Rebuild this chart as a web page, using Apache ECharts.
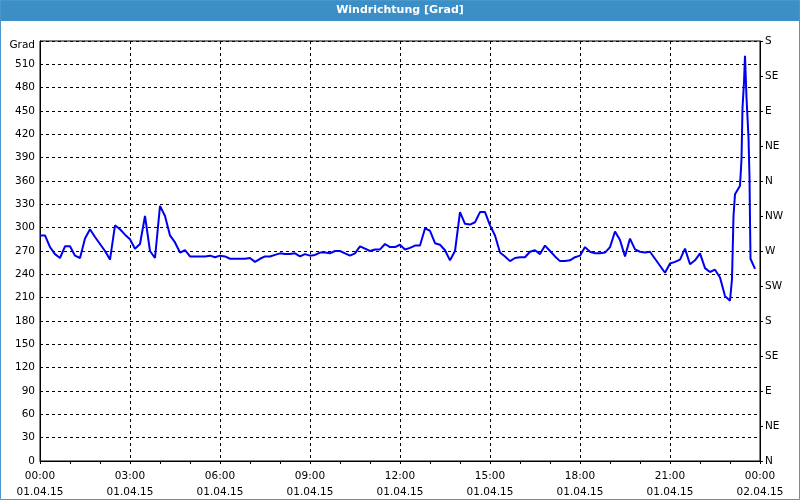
<!DOCTYPE html>
<html>
<head>
<meta charset="utf-8">
<script src="https://cdn.jsdelivr.net/npm/echarts@6/dist/echarts.min.js"></script>
<style>html,body{margin:0;padding:0;background:#fff}#c{width:800px;height:500px}</style>
</head>
<body>
<div id="c"></div>
<script>
// Sampling grid of the main series: one value every 10 minutes, 00:00 to 23:00
const stepMinutes = 10;
const values = [
  290,290,275,266,261,276,276,264,261,286,298,288,279,270,259,303,298,291,
  285,273,279,315,270,261,328,315,290,281,268,271,263,263,263,263,264,262,
  264,263,260,260,260,260,261,256,260,263,263,265,267,266,266,267,263,266,
  264,265,268,268,267,270,270,267,264,267,276,273,270,272,272,279,275,275,
  278,272,274,277,277,299,296,280,278,271,258,270,320,305,304,307,320,320,
  303,290,268,263,257,261,262,262,269,271,266,277,270,263,257,257,258,262,
  264,275,269,267,267,268,275,295,284,263,286,272,269,268,269,260,251,242,
  254,256,259,273,253,258,267,248,243,246,236,212,206
];
// Finer samples of the spike just before midnight (minutes after 00:00)
const spikeMinutes = [1383,1384,1387,1390,1400,1403,1405,1408,1410,1412,1413,1417,1419,1420,1421,1430];
const spikeValues  = [ 208, 234, 315, 343, 354, 388, 454, 487, 521, 521, 467, 416, 365, 309, 260, 247];

const xTickLabels = ['00:00\n01.04.15','03:00\n01.04.15','06:00\n01.04.15','09:00\n01.04.15',
  '12:00\n01.04.15','15:00\n01.04.15','18:00\n01.04.15','21:00\n01.04.15','00:00\n02.04.15'];
const compassLabels = ['N','NE','E','SE','S','SW','W','NW','N','NE','E','SE','S'];
const titleText = 'Windrichtung [Grad]';
const unitText = 'Grad';

const data = values.map((v, i) => [i * stepMinutes, v])
  .concat(spikeMinutes.map((m, i) => [m, spikeValues[i]]));

const font = 'DejaVu Sans';
const chart = echarts.init(document.getElementById('c'), null, {renderer: 'canvas'});
chart.setOption({
  backgroundColor: '#ffffff',
  animation: false,
  graphic: [
    {type: 'rect', left: 0, top: 0, shape: {width: 800, height: 21}, style: {fill: '#3c8fc6'}, z: 0},
    {type: 'rect', shape: {x: 0.5, y: 0.5, width: 799, height: 499}, style: {fill: 'none', stroke: '#4a97cb', lineWidth: 1}, z: 0},
    {type: 'text', left: 'center', top: 5, style: {text: titleText, fill: '#ffffff', font: 'bold 11px ' + font}, z: 1}
  ],
  grid: {left: 40, right: 40, top: 41, bottom: 39, show: true, borderColor: '#000', borderWidth: 1, backgroundColor: 'transparent'},
  xAxis: {
    type: 'value', min: 0, max: 1440, interval: 180,
    axisLine: {show: true, lineStyle: {color: '#000', width: 1}},
    axisTick: {show: true, length: 3, lineStyle: {color: '#000'}},
    minorTick: {show: true, splitNumber: 3, length: 3, lineStyle: {color: '#000'}},
    splitLine: {show: true, lineStyle: {color: '#000', type: [3, 3], width: 1}},
    axisLabel: {
      margin: 7, color: '#000', fontFamily: font, fontSize: 10.5, lineHeight: 16,
      formatter: v => xTickLabels[Math.round(v / 180)]
    }
  },
  yAxis: [
    {
      type: 'value', min: 0, max: 540, interval: 30, position: 'left',
      axisLine: {show: true, lineStyle: {color: '#000'}},
      axisTick: {show: false},
      splitLine: {show: true, lineStyle: {color: '#000', type: [3, 3], width: 1}},
      axisLabel: {
        margin: 5, color: '#000', fontFamily: font, fontSize: 10.5,
        formatter: v => v === 540 ? '{g|' + unitText + '}' : String(v),
        rich: {g: {fontFamily: font, fontSize: 10.5, color: '#000', padding: [9, 0, 0, 0]}}
      }
    },
    {
      type: 'value', min: 0, max: 540, interval: 45, position: 'right',
      axisLine: {show: true, lineStyle: {color: '#000'}},
      axisTick: {show: true, length: 3, lineStyle: {color: '#000'}},
      splitLine: {show: false},
      axisLabel: {
        margin: 5, color: '#000', fontFamily: font, fontSize: 10.5,
        formatter: v => compassLabels[Math.round(v / 45)]
      }
    }
  ],
  series: [{
    type: 'line', data: data, yAxisIndex: 0, showSymbol: false, symbol: 'none',
    lineStyle: {color: '#0000f0', width: 2}, z: 5
  }]
});
</script>
</body>
</html>
